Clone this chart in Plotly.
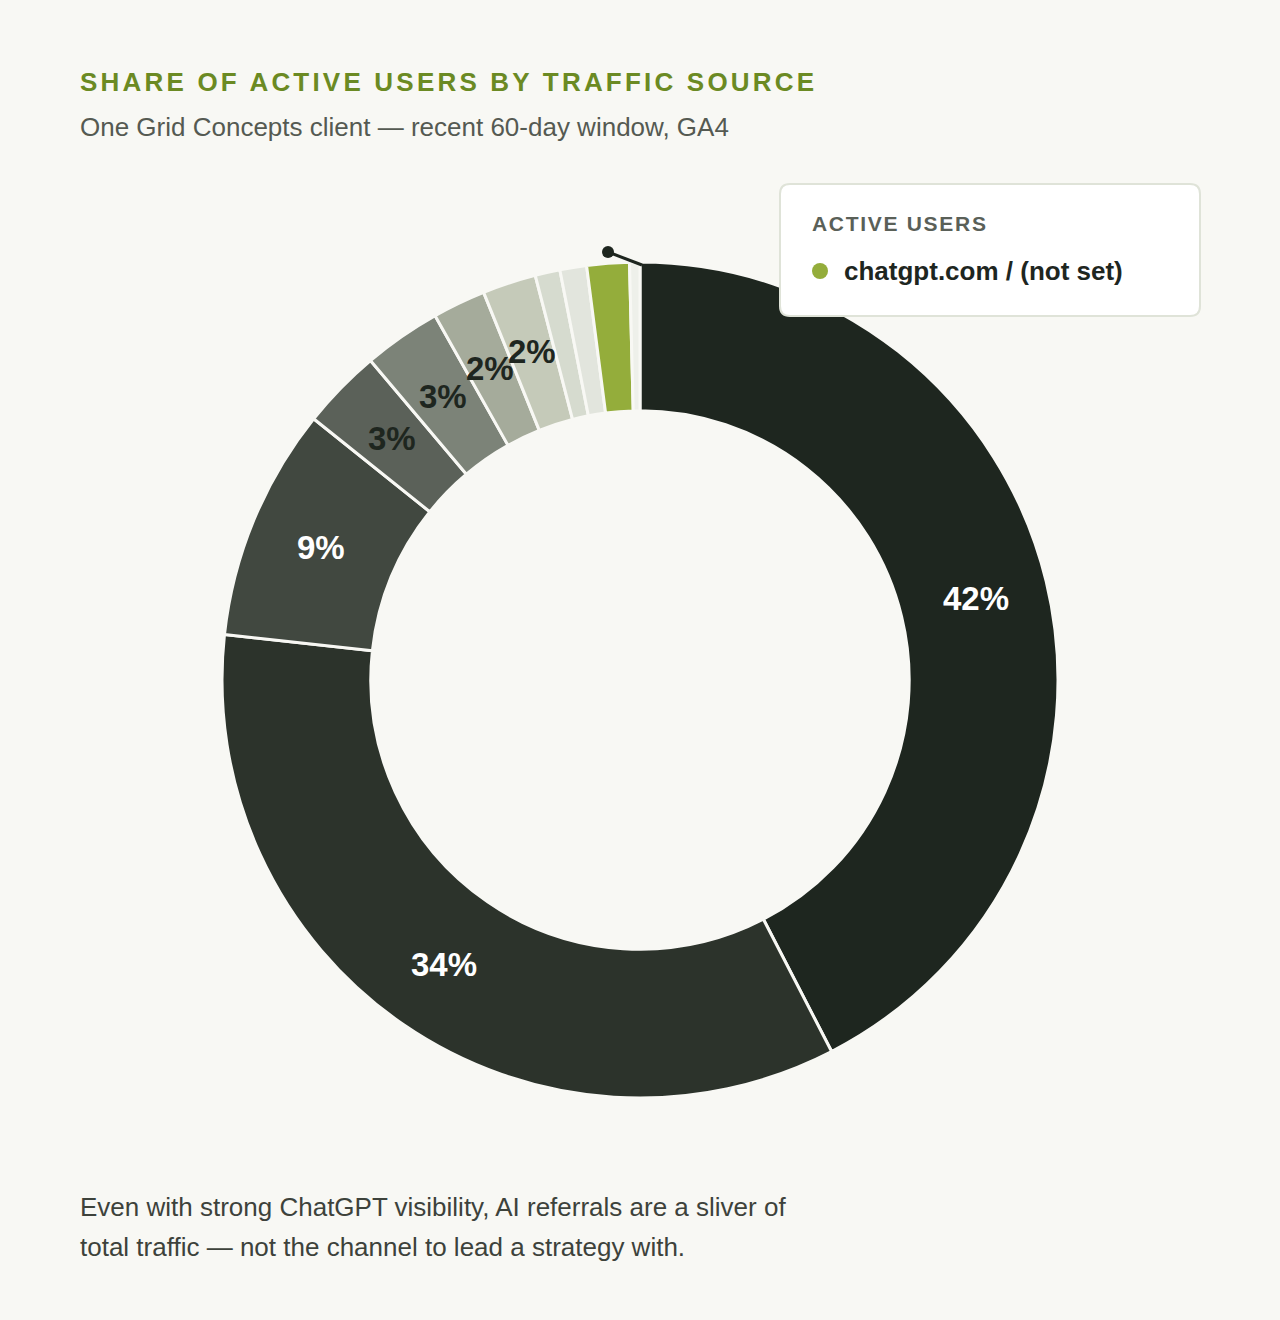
import math
import plotly.graph_objects as go

W, H = 1280, 1320

# traffic sources, clockwise from 12 o'clock
sources = ["Source 1", "Source 2", "Source 3", "Source 4", "Source 5", "Source 6",
           "Source 7", "Source 8", "Source 9", "chatgpt.com / (not set)", "Source 11"]
share = [42.4, 34.3, 9.0, 3.1, 3.0, 2.05, 2.07, 0.96, 1.03, 1.64, 0.4]
colors = ["#1e261f", "#2c332b", "#414840", "#5b6159", "#7c8378", "#a5ab9b",
          "#c5cab9", "#d6dbcf", "#e2e5dd", "#94ad3b", "#eef0ea"]
label_color = ["#ffffff", "#ffffff", "#ffffff", "#1e261f", "#1e261f", "#1e261f",
               "#1e261f", "#1e261f", "#1e261f", "#1e261f", "#1e261f"]
show_label = [True, True, True, True, True, True, True, False, False, False, False]

title = "SHARE OF ACTIVE USERS BY TRAFFIC SOURCE"
subtitle = "One Grid Concepts client \u2014 recent 60-day window, GA4"
footer = ["Even with strong ChatGPT visibility, AI referrals are a sliver of",
          "total traffic \u2014 not the channel to lead a strategy with."]
legend_title = "ACTIVE USERS"
highlight = "chatgpt.com / (not set)"

BG = "#f8f8f4"
FONT = "Liberation Sans, Arial, sans-serif"

# donut geometry in page pixels
CX, CY, R_OUT, HOLE = 640, 680, 418, 0.644


def px(x):
    return x / W


def py(y):
    return 1 - y / H


fig = go.Figure()
fig.add_trace(go.Pie(
    labels=sources, values=share, sort=False, direction="clockwise", rotation=0,
    hole=HOLE,
    marker=dict(colors=colors, line=dict(color=BG, width=3)),
    textinfo="none",
    domain=dict(x=[px(CX - R_OUT), px(CX + R_OUT)], y=[py(CY + R_OUT), py(CY - R_OUT)]),
    showlegend=False, hoverinfo="label+percent",
))

# percentage labels at the middle of each slice's ring
total = sum(share)
r_mid = R_OUT * (1 + HOLE) / 2 + 2
annotations = []
acc = 0
for v, c, show in zip(share, label_color, show_label):
    mid = (acc + v / 2) / total * 2 * math.pi
    acc += v
    if not show:
        continue
    annotations.append(dict(
        text=f"<b>{round(v / total * 100)}%</b>",
        x=px(CX + r_mid * math.sin(mid)), y=py(CY - r_mid * math.cos(mid)),
        xanchor="center", yanchor="middle", showarrow=False, xref="paper", yref="paper",
        font=dict(family=FONT, size=33, color=c),
    ))

# legend card
x0, x1, y0, y1, r = 780, 1200, 184, 316, 10
path = (f"M {px(x0 + r)},{py(y0)} L {px(x1 - r)},{py(y0)} Q {px(x1)},{py(y0)} {px(x1)},{py(y0 + r)} "
        f"L {px(x1)},{py(y1 - r)} Q {px(x1)},{py(y1)} {px(x1 - r)},{py(y1)} "
        f"L {px(x0 + r)},{py(y1)} Q {px(x0)},{py(y1)} {px(x0)},{py(y1 - r)} "
        f"L {px(x0)},{py(y0 + r)} Q {px(x0)},{py(y0)} {px(x0 + r)},{py(y0)} Z")
shapes = [
    dict(type="path", xref="paper", yref="paper", path=path,
         fillcolor="#ffffff", line=dict(color="#dfe3d8", width=2)),
    dict(type="circle", xref="paper", yref="paper",
         x0=px(812), x1=px(828), y0=py(279), y1=py(263),
         fillcolor=colors[sources.index(highlight)], line=dict(width=0)),
    # leader dot and line
    dict(type="line", xref="paper", yref="paper", x0=px(608), y0=py(252), x1=px(642), y1=py(265),
         line=dict(color="#1e261f", width=3)),
    dict(type="circle", xref="paper", yref="paper",
         x0=px(602), x1=px(614), y0=py(258), y1=py(246),
         fillcolor="#1e261f", line=dict(width=0)),
]

texts = [
    dict(text=f"<b><span style='letter-spacing:3.2px'>{title}</span></b>", x=px(78), y=py(82),
         font=dict(family=FONT, size=26, color="#6b8a23")),
    dict(text=subtitle, x=px(78), y=py(127), font=dict(family=FONT, size=26, color="#555a52")),
    dict(text=f"<b><span style='letter-spacing:1.7px'>{legend_title}</span></b>", x=px(810), y=py(224),
         font=dict(family=FONT, size=21, color="#5a6058")),
    dict(text=f"<b>{highlight}</b>", x=px(842), y=py(271), font=dict(family=FONT, size=26, color="#1e261f")),
    dict(text=footer[0], x=px(78), y=py(1207), font=dict(family=FONT, size=26, color="#3d423b")),
    dict(text=footer[1], x=px(78), y=py(1247), font=dict(family=FONT, size=26, color="#3d423b")),
]
for a in texts:
    a.update(xref="paper", yref="paper", xanchor="left", yanchor="middle", showarrow=False)
annotations += texts

fig.update_layout(
    width=W, height=H, margin=dict(l=0, r=0, t=0, b=0),
    paper_bgcolor=BG, plot_bgcolor=BG,
    shapes=shapes, annotations=annotations,
)
fig.write_html("out.html", config={"displayModeBar": False},
               post_script="document.body.style.margin='0';")
